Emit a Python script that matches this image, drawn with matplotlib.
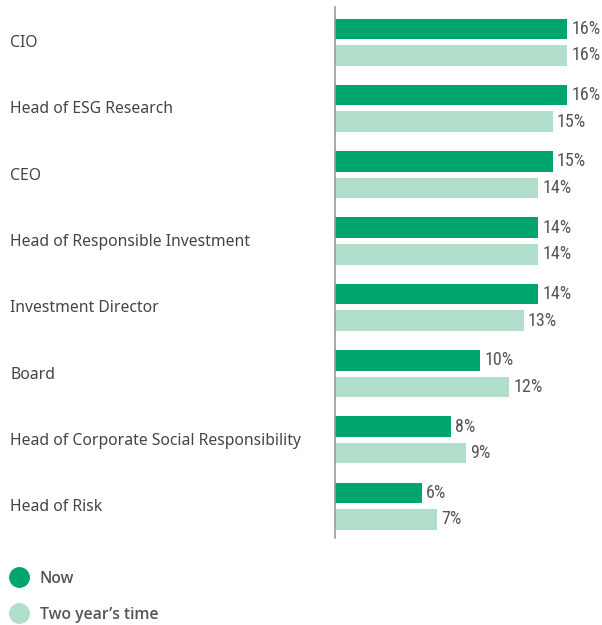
import numpy as np
import matplotlib.pyplot as plt
from matplotlib.lines import Line2D

roles = ['CIO', 'Head of ESG Research', 'CEO', 'Head of Responsible Investment',
         'Investment Director', 'Board', 'Head of Corporate Social Responsibility',
         'Head of Risk']
now = [16, 16, 15, 14, 14, 10, 8, 6]
two_years = [16, 15, 14, 14, 13, 12, 9, 7]

c_now = '#00a56e'
c_two = '#b2dfcb'
txt = '#555555'

fig = plt.figure(figsize=(6.02, 6.25), dpi=100)
ax = fig.add_axes([335/602, 1 - 538/625, 1 - 335/602, (538 - 7)/625])

y = np.arange(len(roles))
ax.barh(y - 0.2, now, height=0.31, color=c_now)
ax.barh(y + 0.2, two_years, height=0.31, color=c_two)

lab_font = ['Roboto Condensed', 'Roboto']
for yi, v in zip(y - 0.2, now):
    ax.text(v + 0.3, yi, f'{v}%', va='center', ha='left', fontsize=13,
            color=txt, family=lab_font)
for yi, v in zip(y + 0.2, two_years):
    ax.text(v + 0.3, yi, f'{v}%', va='center', ha='left', fontsize=13,
            color=txt, family=lab_font)

ax.set_xlim(0, 267/14.5)
ax.set_ylim(7.48, -0.53)
ax.set_xticks([])
ax.set_yticks([])
for s in ['top', 'right', 'bottom']:
    ax.spines[s].set_visible(False)
ax.spines['left'].set_color('#999999')
ax.spines['left'].set_linewidth(1.2)

# category labels at left edge of figure
for yi, r in zip(y, roles):
    ax.annotate(r, xy=(0, yi), xycoords=('figure fraction', 'data'),
                xytext=(10, -1), textcoords='offset pixels',
                va='center', ha='left', fontsize=11.3, color='#444444',
                family='Noto Sans')

handles = [Line2D([], [], marker='o', ls='', markersize=14, color=c_now),
           Line2D([], [], marker='o', ls='', markersize=14, color=c_two)]
leg = fig.legend(handles, ['Now', "Two year\u2019s time"], loc='upper left',
                 bbox_to_anchor=(-0.012, 1 - 560/625), frameon=False,
                 handletextpad=0.3, labelspacing=1.25, borderaxespad=0.3,
                 prop={'family': ['Open Sans', 'Lato'], 'size': 11.3, 'weight': 'semibold'})
for t in leg.get_texts():
    t.set_color(txt)

fig.savefig('out.png', dpi=100)
